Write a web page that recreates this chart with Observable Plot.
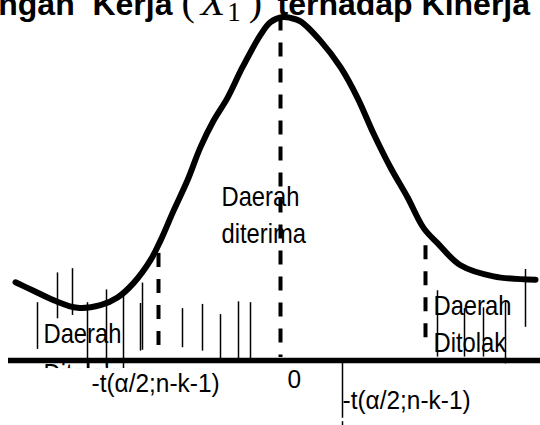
<!DOCTYPE html>
<html><head><meta charset="utf-8">
<script src="https://cdn.jsdelivr.net/npm/d3@7"></script>
<script src="https://cdn.jsdelivr.net/npm/@observablehq/plot@0.6"></script>
<style>html,body{margin:0;padding:0;background:#fff;overflow:hidden}#chart svg{display:block}</style>
</head><body><div id="chart"></div>
<script>
// density curve (t value, height)
const curveT = [-5.3,-4.94,-4.54,-4.06,-3.6,-3.26,-2.94,-2.6,-2.4,-2.14,-1.86,-1.6,-1.34,-1.06,-0.76,-0.4,-0.2,0.05,0.2,0.4,0.8,1.2,1.54,1.86,2.2,2.54,2.86,3.14,3.6,4.26,5.1];
const curveD = [0.092,0.082,0.071,0.062,0.065,0.074,0.091,0.118,0.141,0.176,0.212,0.251,0.282,0.309,0.345,0.383,0.398,0.404,0.403,0.399,0.376,0.345,0.309,0.267,0.227,0.192,0.156,0.138,0.112,0.099,0.095];
// thin hatch strokes
const hatchT = [-4.86,-4.46,-4.16,-3.86,-3.48,-3.14,-2.76,-2.8,-1.96,-1.56,-1.2,-0.84,-0.6,3.14,3.68,4.06,4.5,4.9,1.24,1.24];
const hatchTop = [0.068,0.103,0.108,0.068,0.083,0.079,0.091,0.067,0.061,0.066,0.054,0.069,0.068,0.082,0.061,0.062,0.068,0.107,-0.0036,-0.072];
const hatchBottom = [0.013,0.049,0.053,-0.0095,-0.008,-0.0095,0.012,0.011,0.015,0.011,0.002,0.002,0.002,0.004,0.004,0.004,-0.004,0.039,-0.068,-0.0765];
// critical / centre dashed lines
const critT = [-2.44, 0, 2.9];
const critTop = [0.126, 0.404, 0.135];
const critBottom = [0.008, 0.0035, 0.02];
// horizontal axis line
const axisT = [-5.44, 5.2];
// region labels
const regionText = ["Daerah","Ditolak","Daerah","diterima","Daerah","Ditolak"];
const regionT = [-4.74,-4.74,-1.18,-1.18,3.06,3.06];
const regionD = [0.021,-0.026,0.182,0.138,0.053,0.0094];
// white box behind lower tick label
const maskT = [-5.1,-0.36];
const maskD = [-0.0095,-0.0765];
// tick labels
const tickText = ["-t(α/2;n-k-1)","0","-t(α/2;n-k-1)"];
const tickT = [-3.78,0.14,1.24];
const tickD = [-0.0365,-0.032,-0.0565];
// title pieces
const titleText = ["Pengaruh Lingkungan  Kerja","(X1)","terhadap Kinerja"];
const titleT = [-2.16,-1.98,-0.06];
const titleD = 0.4070;
const titleAnchor = ["end","start","start"];

const curve = curveT.map((t,i)=>({t, d: curveD[i]}));
const hatch = hatchT.map((t,i)=>({t, top: hatchTop[i], bottom: hatchBottom[i]}));
const crit = critT.map((t,i)=>({t, top: critTop[i], bottom: critBottom[i]}));
const regions = regionText.map((s,i)=>({s, t: regionT[i], d: regionD[i]}));
const ticks = tickText.map((s,i)=>({s, t: tickT[i], d: tickD[i]}));
const titles = titleText.map((s,i)=>({s, t: titleT[i], a: titleAnchor[i]}));
const font = "Liberation Sans, Arial, sans-serif";

const plot = Plot.plot({
  width: 540, height: 425,
  marginTop: 0, marginRight: 0, marginBottom: 0, marginLeft: 0,
  x: {domain: [-5.6, 5.2], axis: null},
  y: {domain: [-0.0765, 0.4235], axis: null},
  style: {background: "white", overflow: "hidden"},
  marks: [
    Plot.ruleY([0], {x1: axisT[0], x2: axisT[1], stroke: "black", strokeWidth: 5.5}),
    Plot.ruleX(hatch, {x: "t", y1: "top", y2: "bottom", stroke: "black", strokeWidth: 1.5}),
    Plot.text(regions, {x: "t", y: "d", text: "s", textAnchor: "start", lineAnchor: "bottom", fontFamily: font, fontSize: 27, fill: "black"}),
    Plot.rect([0], {x1: maskT[0], x2: maskT[1], y1: maskD[0], y2: maskD[1], fill: "white"}),
    Plot.text(ticks, {x: "t", y: "d", text: "s", textAnchor: "start", lineAnchor: "bottom", fontFamily: font, fontSize: 26, fill: "black"}),
    Plot.ruleX(crit, {x: "t", y1: "top", y2: "bottom", stroke: "black", strokeWidth: 4, strokeDasharray: "14,12"}),
    Plot.line(curve, {x: "t", y: "d", curve: "catmull-rom", stroke: "black", strokeWidth: 6}),
    Plot.text(titles.filter(d=>d.a==="end"), {x: "t", y: () => titleD, text: "s", textAnchor: "end", lineAnchor: "bottom", fontFamily: font, fontSize: 32, fontWeight: "bold", fill: "black"}),
    Plot.text(titles.filter(d=>d.a==="start"), {x: "t", y: () => titleD, text: "s", textAnchor: "start", lineAnchor: "bottom", fontFamily: font, fontSize: 32, fontWeight: "bold", fill: "black"})
  ]
});
document.getElementById("chart").appendChild(plot);
const svg = d3.select(plot);
// slightly condensed label glyphs, as in the reference
svg.selectAll("text").each(function(){
  const el = d3.select(this);
  const t = this.textContent;
  if (regionText.includes(t)) el.attr("transform", (el.attr("transform") || "") + " scale(0.88,1)");
  else if (tickText.includes(t)) el.attr("transform", (el.attr("transform") || "") + " scale(0.94,1)");
});
// render the (X1) piece with serif italic X and subscript 1
svg.selectAll("text").filter(function(){ return this.textContent === "(X1)"; })
  .each(function(){
    const el = d3.select(this);
    el.text(null).attr("font-family", "Liberation Serif, Times New Roman, serif").attr("font-weight", "normal").attr("font-size", 40);
    el.append("tspan").text("(");
    el.append("tspan").attr("font-style", "italic").attr("dx", 6).text("X");
    el.append("tspan").attr("font-size", 27).attr("dy", 6).attr("dx", 2).text("1");
    el.append("tspan").attr("dy", -6).attr("dx", 8).text(")");
  });
</script>
</body></html>
